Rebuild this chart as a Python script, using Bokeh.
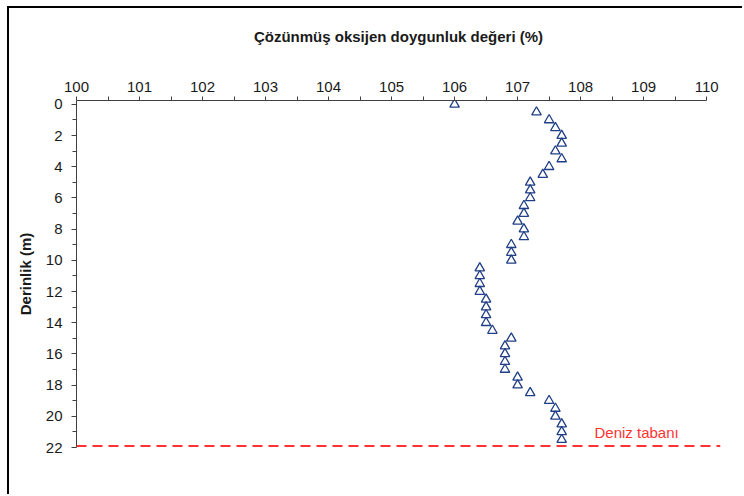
from bokeh.plotting import figure
from bokeh.models import Range1d, FixedTicker, Span, Label
from bokeh.embed import file_html
from bokeh.resources import INLINE

# Data
depth_m = [0.0, 0.5, 1.0, 1.5, 2.0, 2.5, 3.0, 3.5, 4.0, 4.5,
           5.0, 5.5, 6.0, 6.5, 7.0, 7.5, 8.0, 8.5, 9.0, 9.5,
           10.0, 10.5, 11.0, 11.5, 12.0, 12.5, 13.0, 13.5, 14.0, 14.5,
           15.0, 15.5, 16.0, 16.5, 17.0, 17.5, 18.0, 18.5, 19.0, 19.5,
           20.0, 20.5, 21.0, 21.5]
saturation_pct = [106.0, 107.3, 107.5, 107.6, 107.7, 107.7, 107.6, 107.7, 107.5, 107.4,
                  107.2, 107.2, 107.2, 107.1, 107.1, 107.0, 107.1, 107.1, 106.9, 106.9,
                  106.9, 106.4, 106.4, 106.4, 106.4, 106.5, 106.5, 106.5, 106.5, 106.6,
                  106.9, 106.8, 106.8, 106.8, 106.8, 107.0, 107.0, 107.2, 107.5, 107.6,
                  107.6, 107.7, 107.7, 107.7]
x_ticks = [100, 101, 102, 103, 104, 105, 106, 107, 108, 109, 110]
x_minor = [100.5, 101.5, 102.5, 103.5, 104.5, 105.5, 106.5, 107.5, 108.5, 109.5]
y_ticks = [0, 2, 4, 6, 8, 10, 12, 14, 16, 18, 20, 22]
y_minor = [1, 3, 5, 7, 9, 11, 13, 15, 17, 19, 21]
seabed_depth = 21.9
seabed_label = "Deniz tabanı"
title_text = "Çözünmüş oksijen doygunluk değeri (%)"
y_label = "Derinlik (m)"

FONT = "Liberation Sans"
FS = "15px"
AXIS_COLOR = "#404040"
TEXT_COLOR = "#1a1a1a"
RED = "#FF3333"
BLUE = "#203F86"

p = figure(width=735, height=488, output_backend="svg", toolbar_location=None,
           x_range=Range1d(100, 110.22), y_range=Range1d(22, -0.25),
           x_axis_location="above",
           min_border_left=67, min_border_top=92, min_border_right=24, min_border_bottom=49)
p.styles = {"margin-left": "7px", "margin-top": "6px",
            "border-left": "2px solid #000", "border-top": "2px solid #000"}

p.outline_line_color = None
p.grid.visible = False
p.background_fill_color = "white"
p.border_fill_color = "white"

# second (blank) line lifts the title higher above the axis
p.title.text = title_text + "\n\u00a0"
p.title.align = "center"
p.title.text_font = FONT
p.title.text_font_size = FS
p.title.text_font_style = "bold"
p.title.text_color = TEXT_COLOR
p.title.standoff = 33
p.title.offset = -4

xa = p.xaxis[0]
xa.ticker = FixedTicker(ticks=x_ticks, minor_ticks=x_minor)
xa.bounds = (100, 110)
xa.axis_line_color = AXIS_COLOR
xa.major_tick_line_color = AXIS_COLOR
xa.minor_tick_line_color = AXIS_COLOR
xa.major_tick_out = 4
xa.major_tick_in = 0
xa.minor_tick_out = 4
xa.minor_tick_in = 0
xa.major_label_standoff = 5
xa.major_label_text_font = FONT
xa.major_label_text_font_size = FS
xa.major_label_text_color = TEXT_COLOR

ya = p.yaxis[0]
ya.ticker = FixedTicker(ticks=y_ticks, minor_ticks=y_minor)
ya.bounds = (-0.25, 22)
ya.axis_line_color = AXIS_COLOR
ya.major_tick_line_color = AXIS_COLOR
ya.minor_tick_line_color = AXIS_COLOR
ya.major_tick_out = 5
ya.major_tick_in = 0
ya.minor_tick_out = 4
ya.minor_tick_in = 0
ya.major_label_standoff = 9
ya.major_label_text_font = FONT
ya.major_label_text_font_size = FS
ya.major_label_text_color = TEXT_COLOR
ya.axis_label = y_label
ya.axis_label_text_font = FONT
ya.axis_label_text_font_size = FS
ya.axis_label_text_font_style = "bold"
ya.axis_label_text_color = TEXT_COLOR
ya.axis_label_standoff = 9

p.add_layout(Span(location=seabed_depth, dimension="width", line_color=RED,
                  line_width=2, line_dash="10 6"))
p.add_layout(Label(x=108.22, y=21.03, text=seabed_label, text_color=RED,
                   text_font=FONT, text_font_size=FS, text_baseline="middle"))

p.scatter(x=saturation_pct, y=depth_m, marker="triangle", size=9.5,
          line_color=BLUE, line_width=1.3, fill_color=None)

open("out.html", "w").write(file_html(p, INLINE))
